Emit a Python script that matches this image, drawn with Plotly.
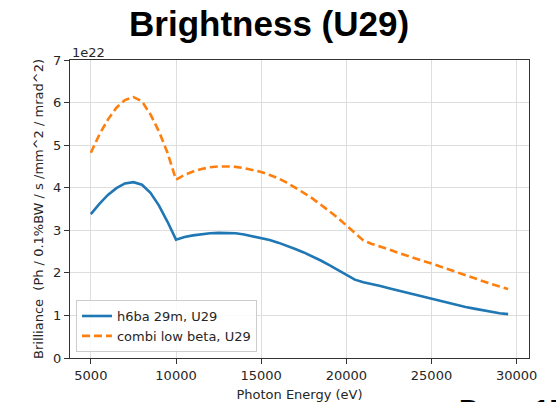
import plotly.graph_objects as go

# Photon energy grid (eV)
energy_ev = [
    5000, 5500, 6000, 6500, 7000, 7500, 8000, 8500, 9000, 9500,
    10000, 10500, 11000, 11500, 12000, 12500, 13000, 13500, 14000, 14500,
    15000, 15500, 16000, 16500, 17000, 17500, 18000, 18500, 19000, 19500,
    20000, 20500, 21000, 21500, 22000, 22500, 23000, 23500, 24000, 24500,
    25000, 25500, 26000, 26500, 27000, 27500, 28000, 28500, 29000, 29500,
]

# Brilliance in units of 1e22 Ph / 0.1%BW / s / mm^2 / mrad^2
h6ba_29m = [
    3.38, 3.62, 3.83, 3.99, 4.10, 4.13, 4.07, 3.88, 3.58, 3.20,
    2.78, 2.84, 2.88, 2.91, 2.93, 2.94, 2.94, 2.93, 2.90, 2.86,
    2.82, 2.77, 2.71, 2.64, 2.56, 2.48, 2.39, 2.29, 2.18, 2.07,
    1.94, 1.84, 1.78, 1.74, 1.69, 1.64, 1.59, 1.54, 1.50, 1.45,
    1.40, 1.35, 1.30, 1.25, 1.20, 1.16, 1.12, 1.08, 1.05, 1.03,
]
combi_low_beta = [
    4.82, 5.25, 5.60, 5.88, 6.06, 6.13, 6.03, 5.72, 5.32, 4.82,
    4.19, 4.30, 4.38, 4.44, 4.48, 4.50, 4.50, 4.49, 4.46, 4.42,
    4.37, 4.30, 4.22, 4.12, 4.01, 3.88, 3.75, 3.61, 3.45, 3.29,
    3.12, 2.93, 2.76, 2.68, 2.62, 2.55, 2.48, 2.41, 2.35, 2.28,
    2.22, 2.15, 2.09, 2.02, 1.95, 1.88, 1.81, 1.74, 1.68, 1.62,
]

series_names = ["h6ba 29m, U29", "combi low beta, U29"]
x_ticks = [5000, 10000, 15000, 20000, 25000, 30000]
y_ticks = [0, 1, 2, 3, 4, 5, 6, 7]

TICK_FONT = dict(family="DejaVu Sans", size=13, color="#262626")

fig = go.Figure()
fig.add_trace(go.Scatter(
    x=energy_ev, y=h6ba_29m, mode="lines", name=series_names[0],
    line=dict(color="#1f77b4", width=2.6),
))
fig.add_trace(go.Scatter(
    x=energy_ev, y=combi_low_beta, mode="lines", name=series_names[1],
    line=dict(color="#ff7f0e", width=2.6, dash="8px,4px"),
))

axis_common = dict(
    showline=True, linecolor="#333333", linewidth=1, mirror=True,
    showgrid=True, gridcolor="#dedede", gridwidth=1,
    ticks="outside", ticklen=5, tickcolor="#333333", tickwidth=1,
    tickfont=TICK_FONT, zeroline=False, automargin=False,
)

fig.update_layout(
    width=556, height=402,
    margin=dict(l=70, r=27, t=60, b=44),
    paper_bgcolor="white", plot_bgcolor="white",
    showlegend=True,
    title=dict(
        text="<b>Brightness (U29)</b>",
        font=dict(family="Liberation Sans", size=35, color="black"),
        x=0.484, xanchor="center", y=0.94, yanchor="middle",
    ),
    xaxis=dict(
        range=[3775, 30725], tickvals=x_ticks,
        ticktext=[str(v) for v in x_ticks],
        title=dict(text="Photon Energy (eV)", font=TICK_FONT, standoff=8),
        **axis_common,
    ),
    yaxis=dict(
        range=[0, 7], tickvals=y_ticks,
        ticktext=[str(v) for v in y_ticks],
        title=dict(text="Brilliance  (Ph / 0.1%BW / s /mm^2 / mrad^2)",
                   font=TICK_FONT, standoff=6),
        **axis_common,
    ),
    legend=dict(
        x=0.013, y=0.02, xanchor="left", yanchor="bottom",
        bgcolor="rgba(255,255,255,0.85)", bordercolor="#cccccc", borderwidth=1,
        font=TICK_FONT, itemwidth=30, tracegroupgap=0,
    ),
    annotations=[
        dict(text="1e22", xref="paper", yref="paper", x=0, y=1.0235,
             xanchor="left", yanchor="middle", showarrow=False,
             font=TICK_FONT),
        dict(text="<b>Page 15</b>", xref="paper", yref="paper",
             x=0.843, y=-0.114, xanchor="left", yanchor="top",
             showarrow=False,
             font=dict(family="Liberation Sans", size=28, color="black")),
    ],
)

fig.write_html("out.html")
